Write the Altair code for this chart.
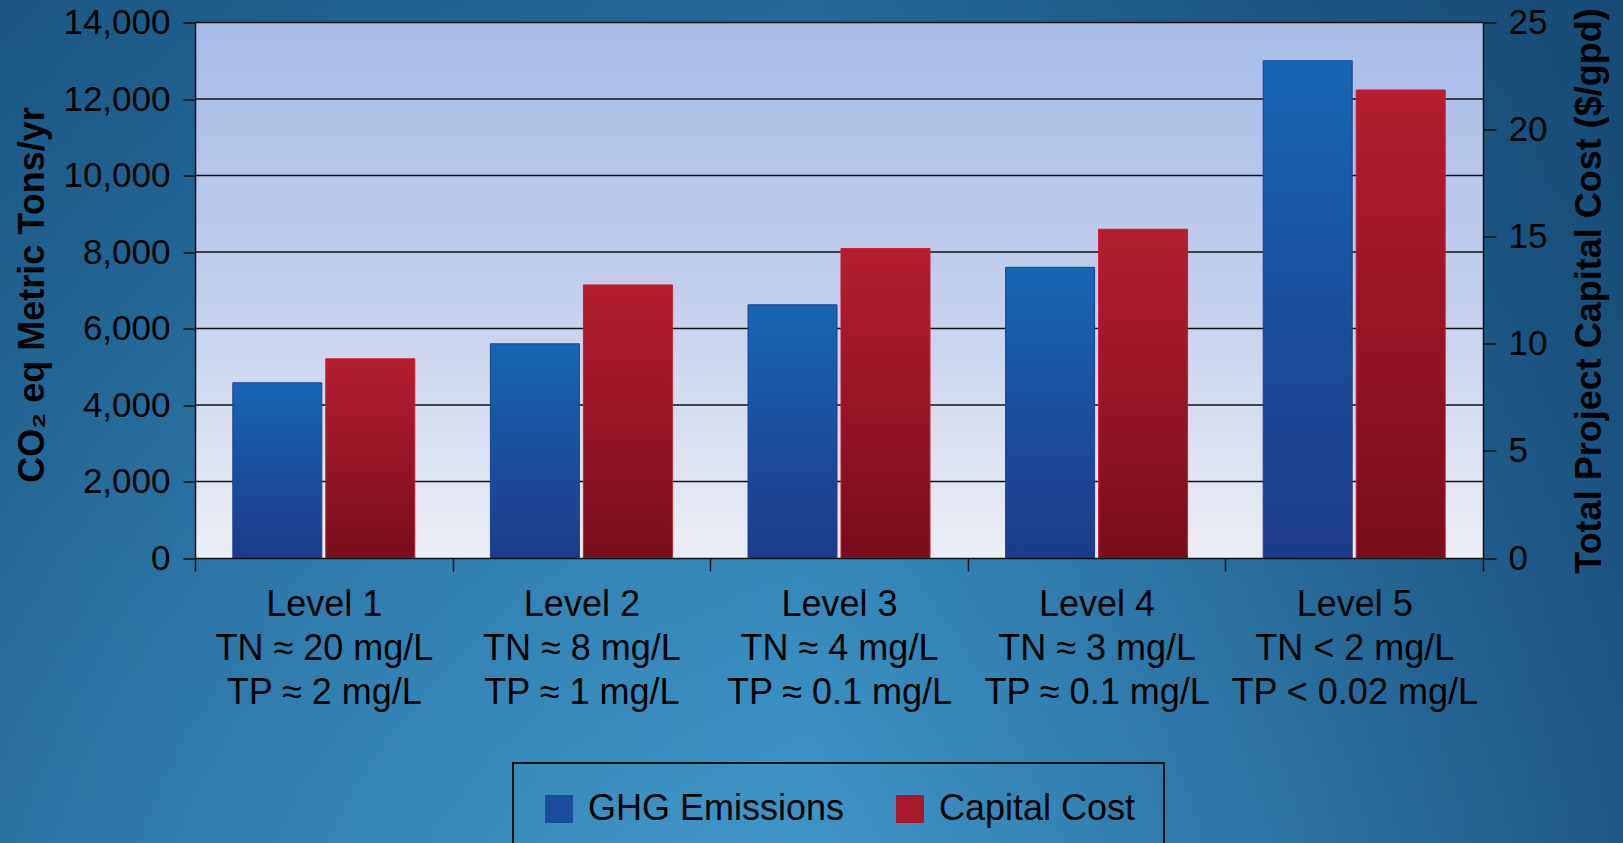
import altair as alt
import pandas as pd

# Treatment levels (multi-line category labels)
levels = [
    "Level 1\nTN ≈ 20 mg/L\nTP ≈ 2 mg/L",
    "Level 2\nTN ≈ 8 mg/L\nTP ≈ 1 mg/L",
    "Level 3\nTN ≈ 4 mg/L\nTP ≈ 0.1 mg/L",
    "Level 4\nTN ≈ 3 mg/L\nTP ≈ 0.1 mg/L",
    "Level 5\nTN < 2 mg/L\nTP < 0.02 mg/L",
]
# CO2-equivalent emissions, metric tons per year (left axis)
ghg_emissions = [4580, 5600, 6620, 7600, 13000]
# Total project capital cost, $/gpd (right axis)
capital_cost = [9.3, 12.75, 14.45, 15.35, 21.85]

series_names = ["GHG Emissions", "Capital Cost"]
left_ticks = [0, 2000, 4000, 6000, 8000, 10000, 12000, 14000]
right_ticks = [0, 5, 10, 15, 20, 25]
grid_values = [2000, 4000, 6000, 8000, 10000, 12000, 14000]

rows = []
for lvl, g, c in zip(levels, ghg_emissions, capital_cost):
    rows.append({"level": lvl, "series": series_names[0], "value": g})
    rows.append({"level": lvl, "series": series_names[1], "value": c})
df = pd.DataFrame(rows)
one_row = pd.DataFrame({"k": [0]})
grid_df = pd.DataFrame({"v": grid_values})

W, H = 1288, 535.5
PAD = {"left": 195, "top": 22.5, "right": 140, "bottom": 285}
FONT = "Liberation Sans"
INK = "#111111"


def lin(top, bottom):
    return alt.LinearGradient(
        gradient="linear",
        stops=[alt.GradientStop(offset=0, color=top), alt.GradientStop(offset=1, color=bottom)],
        x1=0, x2=0, y1=0, y2=1,
    )


# page background: bright glow near the lower middle, darker towards the edges
page_fill = alt.RadialGradient(
    gradient="radial",
    stops=[
        alt.GradientStop(offset=0, color="#4aa2d5"),
        alt.GradientStop(offset=0.45, color="#3587ba"),
        alt.GradientStop(offset=0.8, color="#236a9b"),
        alt.GradientStop(offset=1, color="#1d5e8c"),
    ],
    x1=0.45, y1=0.95, r1=0, x2=0.45, y2=0.95, r2=0.85,
)
page_shade = alt.LinearGradient(
    gradient="linear",
    stops=[
        alt.GradientStop(offset=0, color="rgba(10,40,80,0.14)"),
        alt.GradientStop(offset=0.5, color="rgba(10,40,80,0)"),
        alt.GradientStop(offset=1, color="rgba(10,40,80,0.35)"),
    ],
    x1=0, x2=1, y1=0, y2=0,
)

page_bg = alt.Chart(one_row).mark_rect(fill=page_fill).encode(
    x=alt.value(-PAD["left"]), x2=alt.value(W + PAD["right"]),
    y=alt.value(-PAD["top"]), y2=alt.value(H + PAD["bottom"]),
)
page_bg_shade = alt.Chart(one_row).mark_rect(fill=page_shade).encode(
    x=alt.value(-PAD["left"]), x2=alt.value(W + PAD["right"]),
    y=alt.value(-PAD["top"]), y2=alt.value(H + PAD["bottom"]),
)

plot_bg = alt.Chart(one_row).mark_rect(
    fill=alt.LinearGradient(
        gradient="linear",
        stops=[
            alt.GradientStop(offset=0, color="#a7bbe7"),
            alt.GradientStop(offset=0.5, color="#c2cfec"),
            alt.GradientStop(offset=1, color="#eceef5"),
        ],
        x1=0, x2=0, y1=0, y2=1,
    )
).encode(x=alt.value(0), x2=alt.value("width"), y=alt.value(0), y2=alt.value("height"))

grid = alt.Chart(grid_df).mark_rule(color=INK, strokeWidth=1.6).encode(
    y=alt.Y("v:Q", scale=alt.Scale(domain=[0, 14000], nice=False, zero=True), axis=None),
    x=alt.value(0),
    x2=alt.value("width"),
)

x_axis = alt.Axis(
    labelExpr="split(datum.label, '\\n')",
    labelAngle=0,
    labelFont=FONT,
    labelFontSize=36,
    labelColor="black",
    labelLineHeight=44,
    labelPadding=16,
    labelLimit=0,
    labelOverlap=False,
    tickBand="extent",
    tickSize=13,
    tickWidth=1.5,
    tickColor=INK,
    domainColor=INK,
    domainWidth=1.5,
    grid=False,
    zindex=1,
)
# categories fill the whole width; the gap around each bar pair lives in the offset scale
x_enc = alt.X(
    "level:N", sort=levels, title=None,
    scale=alt.Scale(paddingInner=0, paddingOuter=0),
    axis=x_axis,
)
xoff_enc = alt.XOffset(
    "series:N", sort=series_names,
    scale=alt.Scale(domain=series_names, paddingInner=0.043, paddingOuter=0.4065),
)

y_axis_common = dict(
    labelFont=FONT, labelFontSize=35, labelColor="black",
    tickColor=INK, tickWidth=1.5, domainColor=INK, domainWidth=1.5,
    titleFont=FONT, titleFontSize=36, titleFontWeight="bold", titleColor="black",
    titleAngle=270, titleAlign="center", titleBaseline="alphabetic",
    grid=False, zindex=1,
)

ghg_bars = alt.Chart(df).transform_filter(
    alt.datum.series == series_names[0]
).mark_bar(fill=lin("#1766b2", "#1d3a8a"), stroke="#1c3f92", strokeWidth=1).encode(
    x=x_enc,
    xOffset=xoff_enc,
    y=alt.Y(
        "value:Q",
        scale=alt.Scale(domain=[0, 14000], nice=False),
        axis=alt.Axis(
            orient="left", values=left_ticks, format=",d",
            title="CO₂ eq Metric Tons/yr", titleX=-152, titleY=272,
            tickSize=12, labelPadding=13, **y_axis_common,
        ),
    ),
)

cost_bars = alt.Chart(df).transform_filter(
    alt.datum.series == series_names[1]
).mark_bar(fill=lin("#b41e31", "#780d1b"), stroke="#d11a30", strokeWidth=1).encode(
    x=x_enc,
    xOffset=xoff_enc,
    y=alt.Y(
        "value:Q",
        scale=alt.Scale(domain=[0, 25], nice=False),
        axis=alt.Axis(
            orient="right", values=right_ticks, format="d",
            title="Total Project Capital Cost ($/gpd)", titleX=117, titleY=268,
            tickSize=13, labelPadding=12, **y_axis_common,
        ),
    ),
)

# legend carrier: draws nothing, only supplies the colour legend
legend_layer = alt.Chart(df).transform_filter("datum.value < 0").mark_square().encode(
    color=alt.Color(
        "series:N",
        scale=alt.Scale(domain=series_names, range=["#1b4d9e", "#a8182b"]),
        legend=alt.Legend(
            orient="none", legendX=318, legendY=740.5, direction="horizontal", title=None,
            symbolType="square", symbolSize=784, symbolStrokeWidth=0, symbolOpacity=1,
            labelFont=FONT, labelFontSize=36, labelColor="black", labelLimit=400,
            labelOffset=11, columnPadding=47, padding=28, strokeColor=INK,
        ),
    )
)

chart = alt.layer(
    page_bg, page_bg_shade, plot_bg, grid, ghg_bars, cost_bars, legend_layer
).resolve_scale(y="independent").properties(
    width=W, height=H, padding=PAD,
    autosize=alt.AutoSizeParams(type="none"),
    background="#2a74a6",
).configure(font=FONT).configure_view(stroke=None).configure_legend(strokeWidth=2)

chart.save("out.html", embed_options={"renderer": "svg", "actions": False})
